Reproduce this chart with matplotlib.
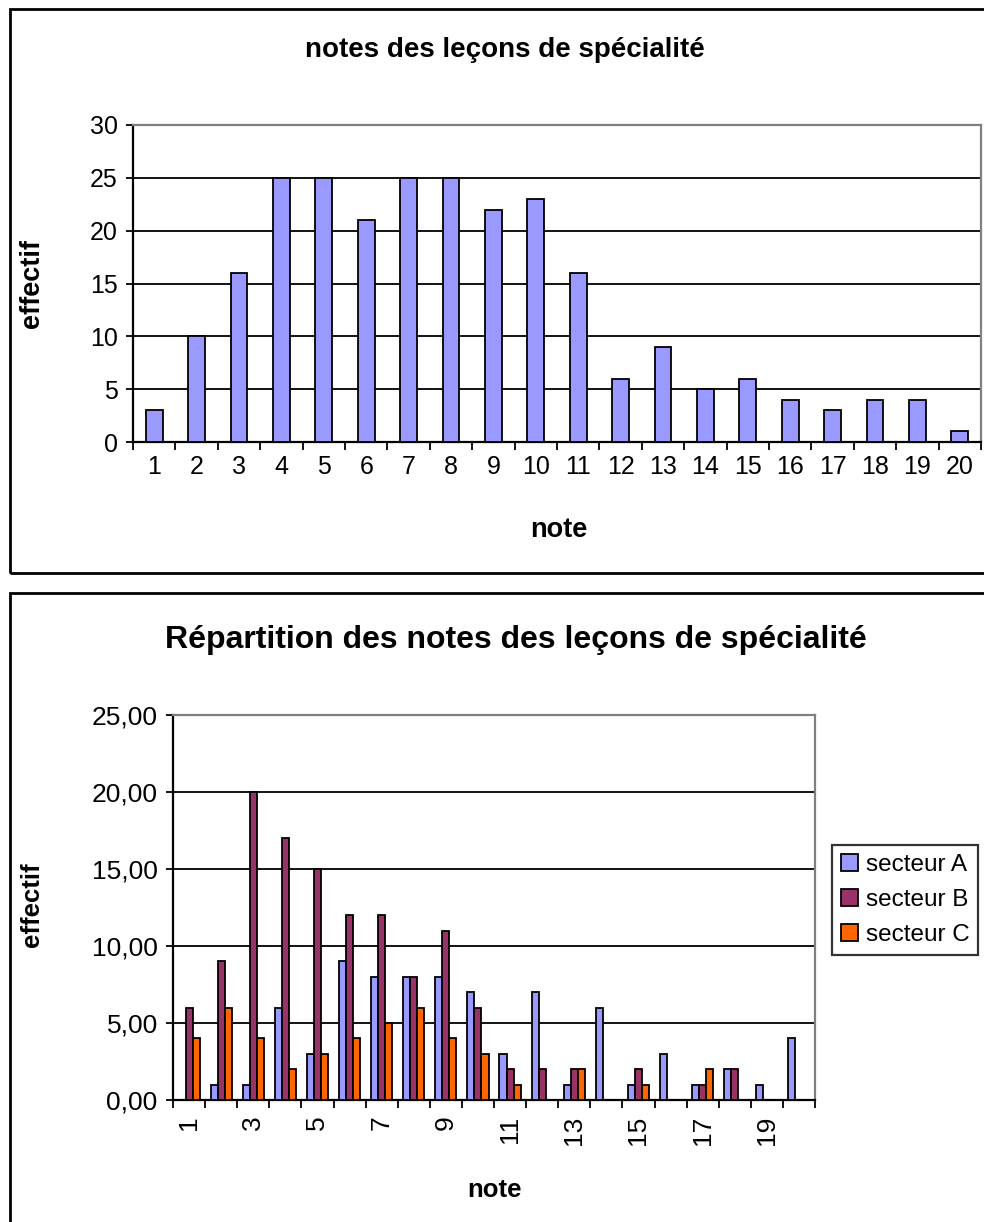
import numpy as np
import matplotlib
matplotlib.use("Agg")
import matplotlib.pyplot as plt
from matplotlib.patches import Rectangle
from matplotlib.ticker import FuncFormatter

plt.rcParams['font.family'] = ['Liberation Sans', 'DejaVu Sans']

notes = list(range(1, 21))
effectif = [3, 10, 16, 25, 25, 21, 25, 25, 22, 23, 16, 6, 9, 5, 6, 4, 3, 4, 4, 1]

secteur_A = [0, 1, 1, 6, 3, 9, 8, 8, 8, 7, 3, 7, 1, 6, 1, 3, 1, 2, 1, 4]
secteur_B = [6, 9, 20, 17, 15, 12, 12, 8, 11, 6, 2, 2, 2, 0, 2, 0, 1, 2, 0, 0]
secteur_C = [4, 6, 4, 2, 3, 4, 5, 6, 4, 3, 1, 0, 2, 0, 1, 0, 2, 0, 0, 0]
series_names = ['secteur A', 'secteur B', 'secteur C']
series_colors = ['#9999FF', '#993366', '#FF6600']

W, H = 984, 1222
fig = plt.figure(figsize=(W / 100, H / 100), dpi=100)


def fx(px):
    return px / W


def fy(py):
    return 1 - py / H


# chart frames
fig.patches.append(Rectangle((fx(10), fy(573)), fx(990), fy(9) - fy(573),
                             transform=fig.transFigure, fill=False,
                             edgecolor='black', linewidth=2))
fig.patches.append(Rectangle((fx(10), fy(1240)), fx(990), fy(593) - fy(1240),
                             transform=fig.transFigure, fill=False,
                             edgecolor='black', linewidth=2))


def style_axes(ax, ymax, step):
    ax.set_ylim(0, ymax)
    ax.set_yticks(np.arange(0, ymax + step / 2, step))
    ax.yaxis.grid(True, color='black', linewidth=1.3)
    ax.set_axisbelow(True)
    ax.spines['top'].set_color('#808080')
    ax.spines['right'].set_color('#808080')
    for s in ['top', 'right', 'left', 'bottom']:
        ax.spines[s].set_linewidth(1.6)
    ax.tick_params(axis='y', direction='out', length=5, width=1.3, pad=6)
    ax.set_xlim(0.5, len(notes) + 0.5)
    ax.set_xticks(np.arange(0.5, len(notes) + 1, 1), minor=True)
    ax.tick_params(axis='x', which='minor', direction='out', length=6, width=1.3)
    ax.tick_params(axis='x', which='major', length=0)


# --- top chart
ax1 = fig.add_axes([fx(133), fy(442), fx(981 - 133), fy(125) - fy(442)])
x = np.array(notes)
ax1.bar(x, effectif, width=0.4, color='#9999FF', edgecolor='black', linewidth=1.3, zorder=3)
style_axes(ax1, 30, 5)
ax1.set_xticks(x)
ax1.set_xticklabels([str(n) for n in notes], fontsize=18)
ax1.tick_params(axis='x', which='major', pad=9)
ax1.tick_params(axis='y', labelsize=18)
fig.text(fx(505), fy(50), 'notes des leçons de spécialité', ha='center', va='center',
         fontsize=20, fontweight='bold')
fig.text(fx(32), fy(283), 'effectif', ha='center', va='center', rotation=90,
         fontsize=19.5, fontweight='bold')
fig.text(fx(559), fy(530), 'note', ha='center', va='center', fontsize=19.5, fontweight='bold')

# --- bottom chart
ax2 = fig.add_axes([fx(173), fy(1100), fx(815 - 173), fy(715) - fy(1100)])
bw = 0.22
for i, (vals, name, col) in enumerate(zip([secteur_A, secteur_B, secteur_C],
                                          series_names, series_colors)):
    ax2.bar(x + (i - 1) * bw, vals, width=bw, color=col, edgecolor='black',
            linewidth=1.3, label=name, zorder=3)
style_axes(ax2, 25, 5)
ax2.yaxis.set_major_formatter(FuncFormatter(lambda v, p: f'{v:.2f}'.replace('.', ',')))
ax2.tick_params(axis='y', labelsize=19)
odd = [n for n in notes if n % 2 == 1]
ax2.set_xticks(odd)
ax2.set_xticklabels([str(n) for n in odd], rotation=90, fontsize=19)
ax2.tick_params(axis='x', which='major', pad=11)
leg = ax2.legend(loc='upper left', bbox_to_anchor=((832 - 173) / 642, (1100 - 845) / 385),
                 fontsize=17.5, frameon=True, fancybox=False, edgecolor='black',
                 handlelength=0.7, handleheight=0.7, handletextpad=0.35,
                 labelspacing=0.55, borderpad=0.35, borderaxespad=0)
leg.get_frame().set_linewidth(1.6)
fig.text(fx(516), fy(640), 'Répartition des notes des leçons de spécialité', ha='center',
         va='center', fontsize=23, fontweight='bold')
fig.text(fx(32), fy(905), 'effectif', ha='center', va='center', rotation=90,
         fontsize=18.5, fontweight='bold')
fig.text(fx(494), fy(1190), 'note', ha='center', va='center', fontsize=18.5, fontweight='bold')

fig.savefig('out.png', dpi=100)
